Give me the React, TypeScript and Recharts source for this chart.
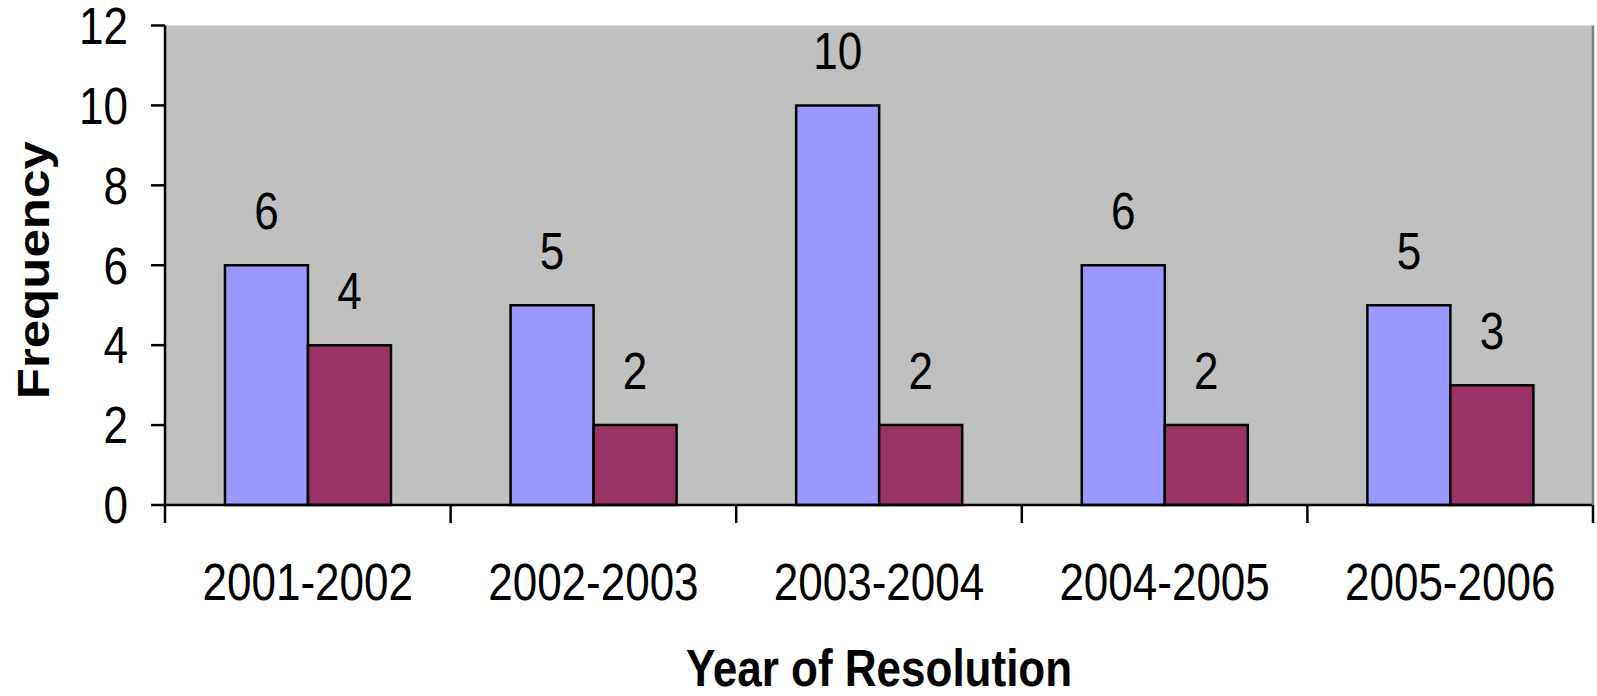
import React from "react";
import { BarChart, Bar, XAxis, YAxis, CartesianGrid, LabelList } from "recharts";

const categories = ["2001-2002", "2002-2003", "2003-2004", "2004-2005", "2005-2006"];
const seriesA = [6, 5, 10, 6, 5];
const seriesB = [4, 2, 2, 2, 3];
const yTicks = [0, 2, 4, 6, 8, 10, 12];
const xTitle = "Year of Resolution";
const yTitle = "Frequency";

const data = categories.map((c, i) => ({ year: c, a: seriesA[i], b: seriesB[i] }));

const W = 1597;
const H = 696;
const LEFT = 165;
const RIGHT_W = 4;
const TOP = 25.5;
const X_AXIS_H = 191;
const PLOT_W = W - LEFT - RIGHT_W;
const X_TICK_MARGIN = 95;
const FONT = "'Liberation Sans', Arial, Helvetica, sans-serif";
const FS = 44;
const SY = 1.16;
const LABEL_OFFSET = 36;

const SText = ({ x, y, anchor = "middle", dy = 0, bold = false, rotate = 0, children }: any) => (
  <g transform={`translate(${x},${y}) scale(1,${SY})${rotate ? ` rotate(${rotate})` : ""}`}>
    <text
      x={0}
      y={0}
      dy={dy}
      textAnchor={anchor}
      fontSize={FS}
      fontFamily={FONT}
      fontWeight={bold ? "bold" : "normal"}
      fill="#000"
    >
      {children}
    </text>
  </g>
);

const XTick = (props: any) => {
  const { x, y, payload, index } = props;
  const half = PLOT_W / categories.length / 2;
  const axisY = y - X_TICK_MARGIN;
  return (
    <g>
      <line x1={x - half} x2={x - half} y1={axisY} y2={axisY + 18} stroke="#000" strokeWidth={2.5} />
      {index === categories.length - 1 && (
        <line x1={x + half} x2={x + half} y1={axisY} y2={axisY + 18} stroke="#000" strokeWidth={2.5} />
      )}
      <SText x={x} y={y}>{payload.value}</SText>
    </g>
  );
};

const YTick = (props: any) => {
  const { x, y, payload } = props;
  return (
    <SText x={x} y={y} anchor="end" dy={FS * 0.358}>
      {payload.value}
    </SText>
  );
};

const BarLabel = (props: any) => {
  const { x, y, width, value } = props;
  return (
    <SText x={Number(x) + Number(width) / 2} y={Number(y) - LABEL_OFFSET}>
      {value}
    </SText>
  );
};

const XTitle = (props: any) => {
  const vb = props.viewBox || {};
  return (
    <SText x={vb.x + vb.width / 2} y={vb.y + vb.height - 10} bold>
      {xTitle}
    </SText>
  );
};

const YTitle = (props: any) => {
  const vb = props.viewBox || {};
  return (
    <SText x={vb.x + 33 + FS * 0.358} y={vb.y + vb.height / 2 + 5} bold rotate={-90} dy={0}>
      {yTitle}
    </SText>
  );
};

export default function App() {
  return (
    <div style={{ position: "absolute", left: 0, top: 0, width: W, height: H, background: "#fff" }}>
      <BarChart
        width={W}
        height={H}
        data={data}
        margin={{ top: TOP, right: 0, left: 0, bottom: 0 }}
        barCategoryGap="21%"
        barGap={0}
        style={{ fontFamily: FONT }}
      >
        <CartesianGrid horizontal={false} vertical={false} fill="#C0C0C0" />
        <XAxis
          xAxisId="top"
          orientation="top"
          dataKey="year"
          height={0}
          tick={false}
          tickLine={false}
          axisLine={{ stroke: "#808080", strokeWidth: 2.5 }}
        />
        <XAxis
          dataKey="year"
          height={X_AXIS_H}
          tickLine={false}
          tickSize={0}
          tickMargin={X_TICK_MARGIN}
          tick={<XTick />}
          interval={0}
          axisLine={{ stroke: "#000", strokeWidth: 2.5 }}
          label={{ content: <XTitle /> }}
        />
        <YAxis
          width={LEFT}
          domain={[0, 12]}
          ticks={yTicks}
          interval={0}
          tickSize={14}
          tickMargin={23}
          tickLine={{ stroke: "#000", strokeWidth: 2.5 }}
          axisLine={{ stroke: "#000", strokeWidth: 2.5 }}
          tick={<YTick />}
          label={{ content: <YTitle /> }}
        />
        <YAxis
          yAxisId="right"
          orientation="right"
          width={RIGHT_W}
          domain={[0, 12]}
          tick={false}
          tickLine={false}
          axisLine={{ stroke: "#808080", strokeWidth: 2.5 }}
        />
        <Bar dataKey="a" fill="#9999FF" stroke="#000" strokeWidth={2.5} isAnimationActive={false}>
          <LabelList dataKey="a" content={<BarLabel />} />
        </Bar>
        <Bar dataKey="b" fill="#993366" stroke="#000" strokeWidth={2.5} isAnimationActive={false}>
          <LabelList dataKey="b" content={<BarLabel />} />
        </Bar>
      </BarChart>
    </div>
  );
}
